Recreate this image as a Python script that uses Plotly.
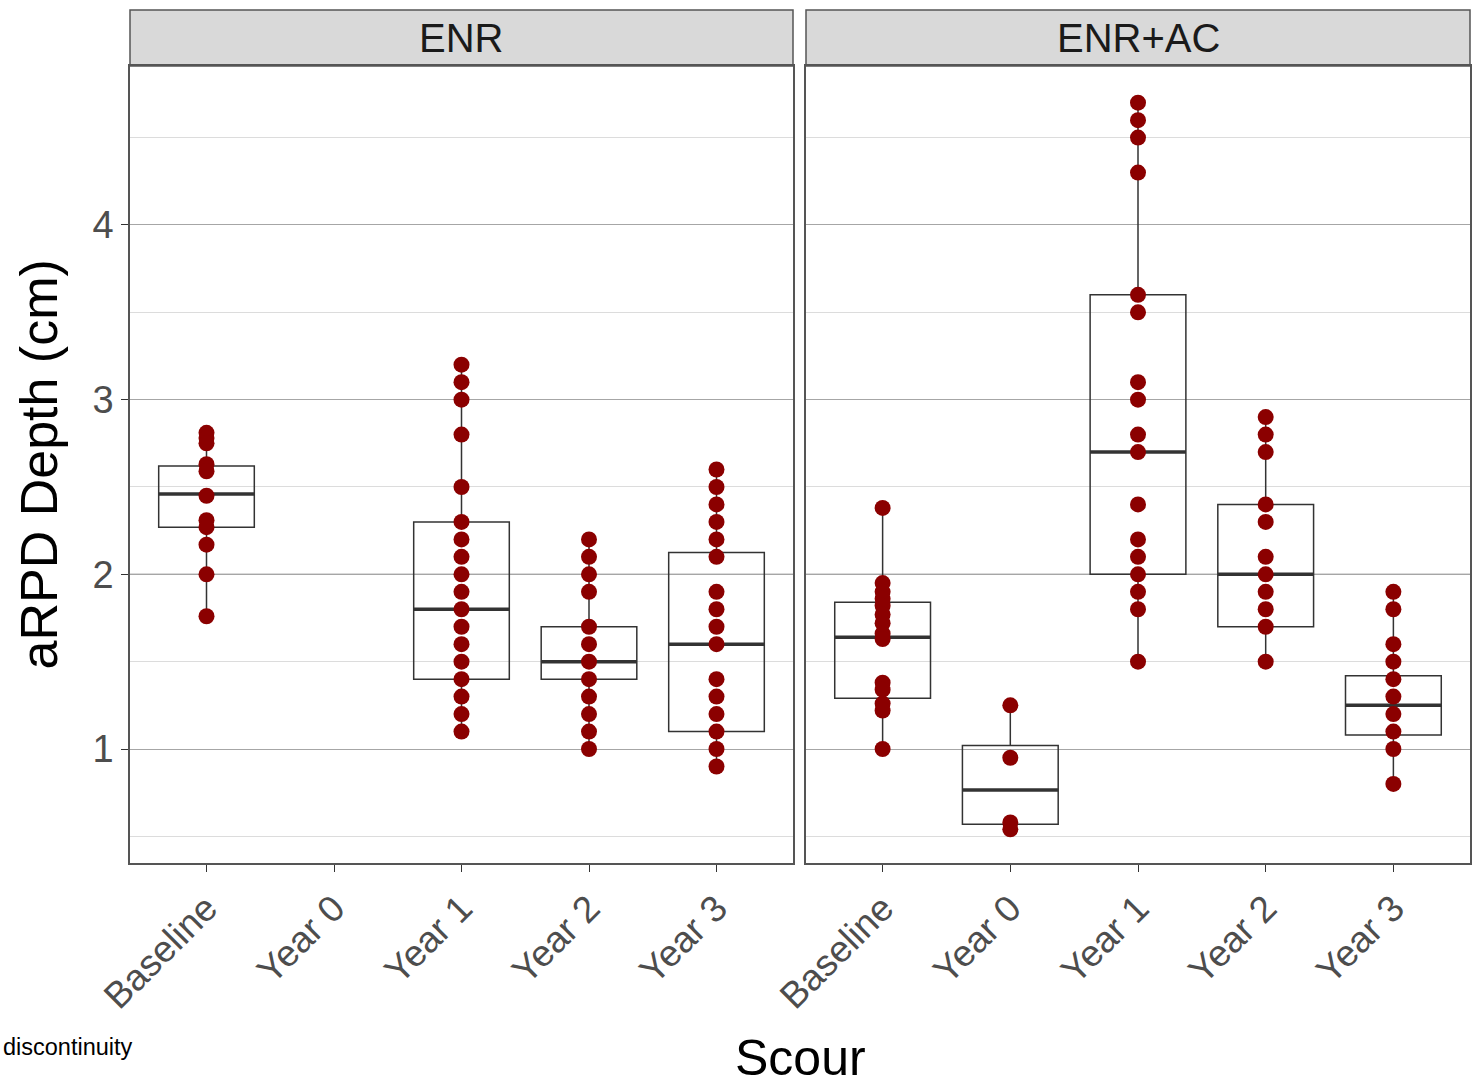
import plotly.graph_objects as go

# ---- data -------------------------------------------------------------
categories = ["Baseline", "Year 0", "Year 1", "Year 2", "Year 3"]
panels = ["ENR", "ENR+AC"]

# aRPD depth observations (cm) per scour period
enr_baseline = [2.81, 2.78, 2.75, 2.63, 2.59, 2.45, 2.31, 2.27, 2.17, 2.00, 1.76]
enr_year0 = []
enr_year1 = [3.2, 3.1, 3.0, 2.8, 2.5, 2.3, 2.2, 2.1, 2.0, 1.9, 1.8, 1.7, 1.6, 1.5, 1.4, 1.3, 1.2, 1.1]
enr_year2 = [2.2, 2.1, 2.0, 1.9, 1.7, 1.6, 1.5, 1.4, 1.3, 1.2, 1.1, 1.0]
enr_year3 = [2.6, 2.5, 2.4, 2.3, 2.2, 2.1, 1.9, 1.8, 1.7, 1.6, 1.4, 1.3, 1.2, 1.1, 1.0, 0.9]

enrac_baseline = [2.38, 1.95, 1.90, 1.86, 1.82, 1.77, 1.72, 1.66, 1.63, 1.38, 1.34, 1.26, 1.22, 1.00]
enrac_year0 = [1.25, 0.95, 0.58, 0.54]
enrac_year1 = [4.7, 4.6, 4.5, 4.3, 3.6, 3.5, 3.1, 3.0, 2.8, 2.7, 2.4, 2.2, 2.1, 2.0, 1.9, 1.8, 1.5]
enrac_year2 = [2.9, 2.8, 2.7, 2.4, 2.3, 2.1, 2.0, 1.9, 1.8, 1.7, 1.5]
enrac_year3 = [1.9, 1.8, 1.6, 1.5, 1.4, 1.3, 1.2, 1.1, 1.0, 0.8]

# box summaries (lower whisker, Q1, median, Q3, upper whisker)
enr_lower = [1.76, None, 1.10, 1.00, 0.90]
enr_q1 = [2.27, None, 1.40, 1.40, 1.10]
enr_median = [2.46, None, 1.80, 1.50, 1.60]
enr_q3 = [2.62, None, 2.30, 1.70, 2.125]
enr_upper = [2.82, None, 3.20, 2.20, 2.60]

enrac_lower = [1.00, 0.54, 1.50, 1.50, 0.80]
enrac_q1 = [1.29, 0.57, 2.00, 1.70, 1.08]
enrac_median = [1.64, 0.765, 2.70, 2.00, 1.25]
enrac_q3 = [1.84, 1.02, 3.60, 2.40, 1.42]
enrac_upper = [2.38, 1.25, 4.70, 2.90, 1.90]

y_ticks = [1, 2, 3, 4]

# ---- layout helpers ---------------------------------------------------
W, H = 1482, 1088
FONT = "Arial, 'Liberation Sans', sans-serif"
BOX_W = 0.75


def px_x(p):
    return p / W


def px_y(p):
    return 1 - p / H


panel_px = [(130, 793), (806, 1470)]
plot_top, plot_bottom, strip_top = 66, 863, 10

groups = {
    "ENR": dict(points=[enr_baseline, enr_year0, enr_year1, enr_year2, enr_year3],
                lower=enr_lower, q1=enr_q1, median=enr_median, q3=enr_q3, upper=enr_upper),
    "ENR+AC": dict(points=[enrac_baseline, enrac_year0, enrac_year1, enrac_year2, enrac_year3],
                   lower=enrac_lower, q1=enrac_q1, median=enrac_median, q3=enrac_q3, upper=enrac_upper),
}

fig = go.Figure()

for p, name in enumerate(panels):
    xa = "x" if p == 0 else "x2"
    ya = "y" if p == 0 else "y2"
    g = groups[name]
    idx = [i for i in range(len(categories)) if g["median"][i] is not None]

    # boxes
    fig.add_trace(go.Box(
        x=idx,
        lowerfence=[g["lower"][i] for i in idx],
        q1=[g["q1"][i] for i in idx],
        median=[g["median"][i] for i in idx],
        q3=[g["q3"][i] for i in idx],
        upperfence=[g["upper"][i] for i in idx],
        width=BOX_W, whiskerwidth=0,
        fillcolor="rgba(255,255,255,0)",
        line=dict(color="#333333", width=1.5),
        boxpoints=False, showlegend=False, hoverinfo="skip",
        xaxis=xa, yaxis=ya,
    ))

    # bold median bars
    mx, my = [], []
    for i in idx:
        mx += [i - BOX_W / 2, i + BOX_W / 2, None]
        my += [g["median"][i], g["median"][i], None]
    fig.add_trace(go.Scatter(
        x=mx, y=my, mode="lines",
        line=dict(color="#333333", width=3.5),
        showlegend=False, hoverinfo="skip", xaxis=xa, yaxis=ya,
    ))

    # observations
    px, py = [], []
    for i, vals in enumerate(g["points"]):
        px += [i] * len(vals)
        py += vals
    fig.add_trace(go.Scatter(
        x=px, y=py, mode="markers",
        marker=dict(color="#8b0000", size=16, line=dict(width=0)),
        showlegend=False, xaxis=xa, yaxis=ya,
    ))

y_dom = [px_y(plot_bottom), px_y(plot_top)]
common_x = dict(
    range=[-0.6, 4.6], tickmode="array", tickvals=list(range(len(categories))),
    ticktext=categories, tickangle=-45, automargin=False,
    tickfont=dict(family=FONT, size=37, color="#4d4d4d"),
    ticks="outside", ticklen=7, tickwidth=1.2, tickcolor="#333333",
    showgrid=False, zeroline=False,
    showline=True, mirror=True, linecolor="#555555", linewidth=1.5,
)
common_y = dict(
    range=[0.3475, 4.91], tickmode="array", tickvals=y_ticks, automargin=False,
    showgrid=True, gridcolor="#a6a6a6", gridwidth=1,
    minor=dict(tickvals=[0.5, 1.5, 2.5, 3.5, 4.5], showgrid=True,
               gridcolor="#dcdcdc", gridwidth=1),
    zeroline=False, domain=y_dom,
    showline=True, mirror=True, linecolor="#555555", linewidth=1.5,
)

fig.update_layout(
    width=W, height=H,
    margin=dict(l=0, r=0, t=0, b=0, autoexpand=False),
    paper_bgcolor="white", plot_bgcolor="white",
    font=dict(family=FONT),
    xaxis=dict(domain=[px_x(panel_px[0][0]), px_x(panel_px[0][1])], anchor="y", **common_x),
    xaxis2=dict(domain=[px_x(panel_px[1][0]), px_x(panel_px[1][1])], anchor="y2", **common_x),
    yaxis=dict(anchor="x", ticks="outside", ticklen=7, tickwidth=1.2, tickcolor="#333333",
               tickfont=dict(family=FONT, size=38, color="#4d4d4d"), **common_y),
    yaxis2=dict(anchor="x2", matches="y", showticklabels=False, ticks="", **common_y),
)

shapes = []
annotations = []
for p, name in enumerate(panels):
    x0, x1 = px_x(panel_px[p][0]), px_x(panel_px[p][1])
    # facet strip
    shapes.append(dict(type="rect", xref="paper", yref="paper",
                       x0=x0, x1=x1, y0=px_y(plot_top), y1=px_y(strip_top),
                       fillcolor="#d9d9d9", line=dict(color="#555555", width=1.5), layer="below"))
    annotations.append(dict(text=name, xref="paper", yref="paper",
                            x=(x0 + x1) / 2, y=px_y((plot_top + strip_top) / 2),
                            xanchor="center", yanchor="middle", showarrow=False,
                            font=dict(family=FONT, size=40, color="#1a1a1a")))
    # reference line at 2 cm
    shapes.append(dict(type="line", xref=("x" if p == 0 else "x2") + " domain",
                       yref="y" if p == 0 else "y2", x0=0, x1=1, y0=2, y1=2,
                       line=dict(color="#262626", width=1), layer="below"))

annotations += [
    dict(text="aRPD Depth (cm)", xref="paper", yref="paper", x=px_x(38),
         y=px_y((plot_top + plot_bottom) / 2), textangle=-90, showarrow=False,
         xanchor="center", yanchor="middle", font=dict(family=FONT, size=52, color="black")),
    dict(text="Scour", xref="paper", yref="paper", x=px_x(800), y=px_y(1058),
         showarrow=False, xanchor="center", yanchor="middle",
         font=dict(family=FONT, size=50, color="black")),
    dict(text="discontinuity", xref="paper", yref="paper", x=px_x(1), y=px_y(1047),
         showarrow=False, xanchor="left", yanchor="middle",
         font=dict(family=FONT, size=23.5, color="black")),
]
fig.update_layout(shapes=shapes, annotations=annotations)

fig.write_html("out.html")
